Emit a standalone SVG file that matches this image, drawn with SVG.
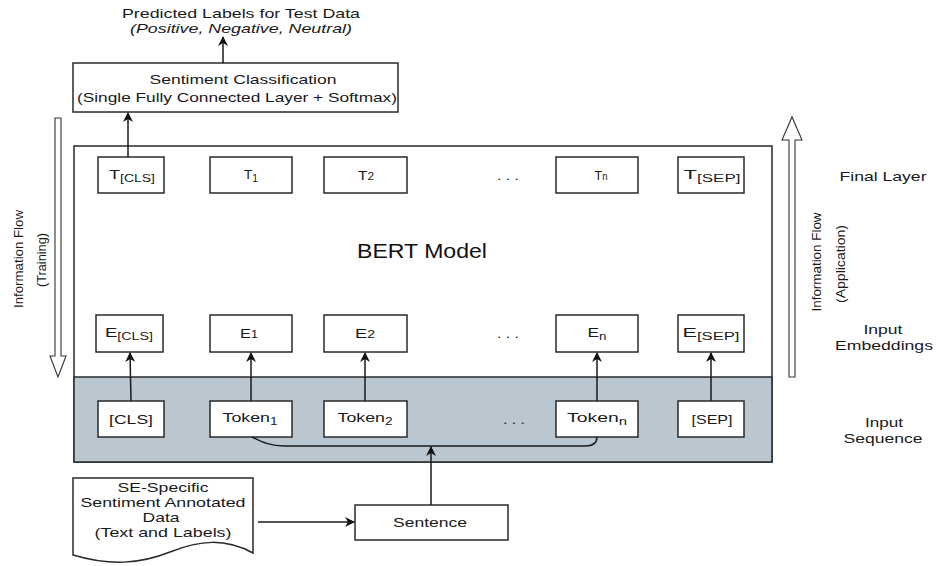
<svg xmlns="http://www.w3.org/2000/svg" width="936" height="566" viewBox="0 0 936 566">
<defs>
<style>
text{font-family:"Liberation Sans",Arial,sans-serif;fill:#1a1a1a;}
.lbl{font-size:13px;text-anchor:middle;}
.sub{font-size:10px;}
.box{fill:#fff;stroke:#2a2a2a;stroke-width:1.5;}
.ln{fill:none;stroke:#1a1a1a;stroke-width:1.5;}
.big{fill:#fff;stroke:#333;stroke-width:1.1;}
</style>
<marker id="ah" viewBox="0 0 10 10" refX="9" refY="5" markerWidth="10" markerHeight="10" markerUnits="userSpaceOnUse" orient="auto">
<path d="M0,0 L10,5 L0,10 L3,5 Z" fill="#111"/>
</marker>
</defs>
<rect width="936" height="566" fill="#fff"/>

<g id="bert">
<rect x="74" y="146" width="698" height="316" fill="#fff" stroke="#2a2a2a" stroke-width="1.5"/>
<rect x="74" y="377" width="698" height="85" fill="#bac6d0" stroke="#2a2a2a" stroke-width="1.5"/>
<text x="422" y="258" textLength="130" lengthAdjust="spacingAndGlyphs" style="font-size:21px;text-anchor:middle;fill:#111">BERT Model</text>
</g>

<g id="predicted">
<text class="lbl" x="241" y="18" textLength="238" lengthAdjust="spacingAndGlyphs">Predicted Labels for Test Data</text>
<text class="lbl" x="241" y="33" textLength="222" lengthAdjust="spacingAndGlyphs" style="font-style:italic">(Positive, Negative, Neutral)</text>
</g>
<g id="classification">
<rect class="box" x="73" y="63" width="325" height="49"/>
<text class="lbl" x="243" y="84" textLength="187" lengthAdjust="spacingAndGlyphs">Sentiment Classification</text>
<text class="lbl" x="237" y="102" textLength="320" lengthAdjust="spacingAndGlyphs">(Single Fully Connected Layer + Softmax)</text>
</g>

<g id="t-cls"><rect class="box" x="98" y="157" width="66" height="36"/><text class="lbl" x="132" y="179" textLength="46" lengthAdjust="spacingAndGlyphs">T<tspan class="sub" dy="3">[CLS]</tspan></text></g>
<g id="t-1"><rect class="box" x="210" y="157" width="82" height="36"/><text class="lbl" x="251" y="179" textLength="14" lengthAdjust="spacingAndGlyphs">T<tspan class="sub" dy="3">1</tspan></text></g>
<g id="t-2"><rect class="box" x="324" y="157" width="83" height="36"/><text class="lbl" x="366" y="180" textLength="16" lengthAdjust="spacingAndGlyphs">T<tspan class="sub">2</tspan></text></g>
<text class="lbl" x="508" y="180" textLength="22" lengthAdjust="spacingAndGlyphs">. . .</text>
<g id="t-n"><rect class="box" x="556" y="157" width="82" height="36"/><text class="lbl" x="601" y="180" textLength="13" lengthAdjust="spacingAndGlyphs">T<tspan class="sub">n</tspan></text></g>
<g id="t-sep"><rect class="box" x="678" y="157" width="66" height="36"/><text class="lbl" x="712" y="179" textLength="57" lengthAdjust="spacingAndGlyphs">T<tspan class="sub" dy="3">[SEP]</tspan></text></g>

<g id="e-cls"><rect class="box" x="96" y="315" width="67" height="37"/><text class="lbl" x="129" y="337" textLength="48" lengthAdjust="spacingAndGlyphs">E<tspan class="sub" dy="3">[CLS]</tspan></text></g>
<g id="e-1"><rect class="box" x="210" y="315" width="82" height="37"/><text class="lbl" x="249" y="338" textLength="18" lengthAdjust="spacingAndGlyphs">E<tspan class="sub">1</tspan></text></g>
<g id="e-2"><rect class="box" x="324" y="315" width="83" height="37"/><text class="lbl" x="365" y="338" textLength="20" lengthAdjust="spacingAndGlyphs">E<tspan class="sub">2</tspan></text></g>
<text class="lbl" x="508" y="338" textLength="22" lengthAdjust="spacingAndGlyphs">. . .</text>
<g id="e-n"><rect class="box" x="556" y="315" width="82" height="37"/><text class="lbl" x="597" y="337" textLength="19" lengthAdjust="spacingAndGlyphs">E<tspan class="sub" dy="3">n</tspan></text></g>
<g id="e-sep"><rect class="box" x="678" y="315" width="66" height="37"/><text class="lbl" x="711" y="337" textLength="57" lengthAdjust="spacingAndGlyphs">E<tspan class="sub" dy="3">[SEP]</tspan></text></g>

<g id="tok-cls"><rect class="box" x="98" y="401" width="66" height="36"/><text class="lbl" x="131" y="424" textLength="44" lengthAdjust="spacingAndGlyphs">[CLS]</text></g>
<g id="tok-1"><rect class="box" x="210" y="401" width="82" height="36"/><text class="lbl" x="250" y="422" textLength="55" lengthAdjust="spacingAndGlyphs">Token<tspan class="sub" dy="3">1</tspan></text></g>
<g id="tok-2"><rect class="box" x="324" y="401" width="83" height="36"/><text class="lbl" x="365" y="422" textLength="55" lengthAdjust="spacingAndGlyphs">Token<tspan class="sub" dy="3">2</tspan></text></g>
<text class="lbl" x="514" y="424" textLength="22" lengthAdjust="spacingAndGlyphs">. . .</text>
<g id="tok-n"><rect class="box" x="556" y="401" width="82" height="36"/><text class="lbl" x="597" y="422" textLength="60" lengthAdjust="spacingAndGlyphs">Token<tspan class="sub" dy="3">n</tspan></text></g>
<g id="tok-sep"><rect class="box" x="678" y="401" width="66" height="36"/><text class="lbl" x="712" y="424" textLength="41" lengthAdjust="spacingAndGlyphs">[SEP]</text></g>

<g id="document">
<path class="box" d="M73,478 L253,478 L253,553 C225,538 200,540 170,552 C140,564 110,566 73,555 Z"/>
<text class="lbl" x="163" y="492" textLength="91" lengthAdjust="spacingAndGlyphs">SE-Specific</text>
<text class="lbl" x="163" y="507" textLength="165" lengthAdjust="spacingAndGlyphs">Sentiment Annotated</text>
<text class="lbl" x="161" y="522" textLength="37" lengthAdjust="spacingAndGlyphs">Data</text>
<text class="lbl" x="163" y="537" textLength="137" lengthAdjust="spacingAndGlyphs">(Text and Labels)</text>
</g>
<g id="sentence"><rect class="box" x="355" y="505" width="153" height="35"/><text class="lbl" x="430" y="527" textLength="74" lengthAdjust="spacingAndGlyphs">Sentence</text></g>

<g id="flow-training">
<path class="big" d="M55,118 L61,118 L61,356 L66,356 L58,377 L50,356 L55,356 Z"/>
<text class="lbl" transform="translate(23,259) rotate(-90)" textLength="98" lengthAdjust="spacingAndGlyphs">Information Flow</text>
<text class="lbl" transform="translate(46,260) rotate(-90)" textLength="54" lengthAdjust="spacingAndGlyphs">(Training)</text>
</g>
<g id="flow-application">
<path class="big" d="M789,377 L795,377 L795,140 L802,140 L792,117 L782,140 L789,140 Z"/>
<text class="lbl" transform="translate(821,262) rotate(-90)" textLength="99" lengthAdjust="spacingAndGlyphs">Information Flow</text>
<text class="lbl" transform="translate(845,264) rotate(-90)" textLength="78" lengthAdjust="spacingAndGlyphs">(Application)</text>
</g>

<g id="row-labels">
<text class="lbl" x="883" y="181" textLength="87" lengthAdjust="spacingAndGlyphs">Final Layer</text>
<text class="lbl" x="883" y="334" textLength="39" lengthAdjust="spacingAndGlyphs">Input</text>
<text class="lbl" x="884" y="350" textLength="98" lengthAdjust="spacingAndGlyphs">Embeddings</text>
<text class="lbl" x="884" y="427" textLength="38" lengthAdjust="spacingAndGlyphs">Input</text>
<text class="lbl" x="883" y="443" textLength="79" lengthAdjust="spacingAndGlyphs">Sequence</text>
</g>

<g id="connectors">
<line class="ln" x1="223" y1="63" x2="223" y2="37" marker-end="url(#ah)"/>
<line class="ln" x1="128" y1="157" x2="128" y2="113" marker-end="url(#ah)"/>
<line class="ln" x1="131" y1="401" x2="130" y2="353" marker-end="url(#ah)"/>
<line class="ln" x1="251" y1="401" x2="251" y2="353" marker-end="url(#ah)"/>
<line class="ln" x1="365" y1="401" x2="365" y2="353" marker-end="url(#ah)"/>
<line class="ln" x1="597" y1="401" x2="597" y2="353" marker-end="url(#ah)"/>
<line class="ln" x1="711" y1="401" x2="711" y2="353" marker-end="url(#ah)"/>
<path class="ln" d="M252,437 C262,442 270,446 285,446 L585,446 C595,446 597,441 597,437"/>
<line class="ln" x1="431" y1="505" x2="431" y2="447" marker-end="url(#ah)"/>
<line class="ln" x1="258" y1="522" x2="354" y2="522" marker-end="url(#ah)"/>
</g>
</svg>
